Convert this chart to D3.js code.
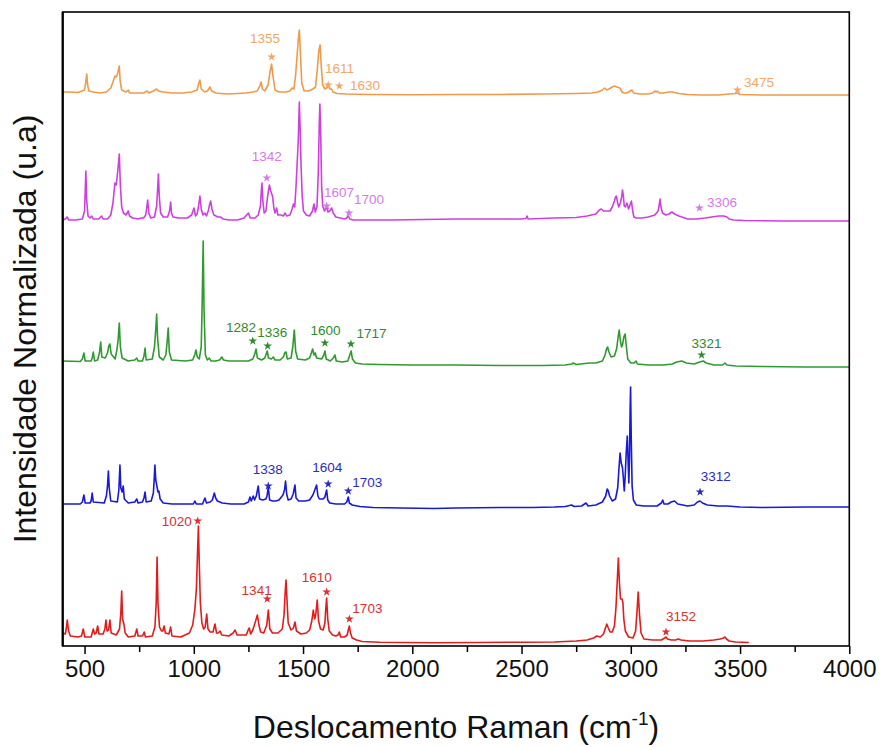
<!DOCTYPE html>
<html><head><meta charset="utf-8">
<script src="https://cdn.jsdelivr.net/npm/d3@7"></script>
<style>body{margin:0;background:#fff}svg{display:block}text{font-family:"Liberation Sans",Arial,sans-serif}</style>
</head><body><svg id="chart" width="881" height="747"></svg>
<script>
// ---------- data ----------
const xMajorTicks = [500,1000,1500,2000,2500,3000,3500,4000];
const xMinorTicks = [750,1250,1750,2250,2750,3250,3750];
const seriesNames = ["red","blue","green","magenta","orange"];
const seriesOffsets = [3,138,279,425,551];
const lineColors = ["#e21b1b","#1818d8","#2f9a2f","#cf3fe0","#ef9a4a"];
const labelColors = ["#d93030","#2b2bc0","#2e8b2e","#d37be6","#f0a868"];

const redSpectrum = [[400,10],[412,9],[416,14],[421,23],[427,12],[435,7],[470,6],[486,7],[494,14],[501,6],[530,6],[540,14],[546,9],[553,10],[560,17],[566,9],[585,9],[593,14],[598,23],[603,12],[610,13],[616,23],[622,10],[645,8],[660,14],[666,30],[670,52],[674,24],[680,19],[686,10],[700,6],[730,7],[739,14],[745,7],[765,7],[773,11],[779,6],[810,7],[822,16],[828,40],[832,86],[836,40],[843,16],[852,12],[858,12],[864,17],[870,10],[886,9],[894,16],[900,7],[940,6],[980,10],[995,18],[1005,34],[1012,55],[1017,90],[1021,117],[1025,80],[1030,40],[1037,20],[1045,14],[1052,16],[1059,29],[1065,14],[1075,11],[1088,11],[1097,19],[1104,10],[1112,10],[1120,12],[1128,8],[1160,7],[1180,10],[1189,13],[1198,8],[1240,8],[1249,13],[1254,15],[1260,9],[1270,13],[1283,22],[1291,28],[1298,18],[1306,11],[1320,10],[1334,18],[1341,33],[1348,14],[1360,10],[1385,10],[1405,14],[1413,28],[1418,50],[1422,63],[1426,45],[1432,20],[1445,13],[1456,15],[1463,21],[1470,12],[1490,9],[1515,10],[1530,13],[1540,22],[1547,33],[1553,24],[1558,28],[1565,43],[1571,22],[1580,14],[1592,13],[1600,20],[1604,34],[1608,45],[1613,24],[1620,12],[1635,8],[1650,7],[1660,8],[1666,11],[1672,6],[1690,6],[1702,8],[1707,13],[1712,17],[1717,10],[1725,5],[1745,3],[1770,1.5],[1850,0.8],[1950,0.5],[2100,0.3],[2300,0.5],[2500,0.8],[2650,1],[2750,2],[2800,3],[2830,5],[2844,7],[2860,6],[2875,9],[2884,15],[2890,19],[2897,15],[2905,11],[2915,11],[2925,17],[2932,35],[2938,62],[2943,85],[2948,60],[2953,44],[2960,44],[2964,40],[2968,24],[2975,12],[2990,6],[3010,5],[3022,12],[3028,30],[3034,51],[3040,28],[3047,10],[3060,4],[3100,3],[3140,3],[3155,5],[3161,6],[3168,4],[3185,3],[3205,3],[3217,4],[3230,3],[3270,2],[3330,2],[3380,3],[3410,4],[3424,5],[3431,6],[3438,4],[3450,2],[3480,1],[3540,0.5]];

const blueSpectrum = [[400,4],[480,4],[490,6],[497,13],[503,5],[525,5],[530,7],[535,15],[540,6],[590,5],[600,12],[605,22],[609,37],[613,20],[620,7],[650,6],[657,18],[662,43],[666,20],[672,16],[677,22],[682,9],[700,5],[730,6],[739,9],[745,5],[765,6],[772,10],[777,16],[782,6],[805,7],[815,15],[819,30],[822,43],[826,28],[831,22],[836,16],[840,17],[846,9],[860,5],[900,4],[960,4],[998,4],[1005,7],[1011,4],[1040,4],[1051,10],[1058,5],[1075,6],[1085,8],[1094,15],[1100,10],[1108,7],[1130,5],[1170,4],[1200,4],[1230,4],[1250,6],[1257,11],[1263,7],[1272,12],[1278,8],[1286,12],[1295,22],[1301,9],[1315,8],[1330,9],[1335,12],[1341,21],[1347,8],[1360,7],[1375,7],[1390,8],[1408,13],[1415,18],[1420,27],[1425,14],[1432,8],[1445,9],[1455,14],[1463,23],[1468,10],[1480,7],[1510,7],[1530,8],[1545,13],[1552,17],[1562,23],[1568,12],[1575,9],[1592,9],[1600,11],[1608,18],[1613,8],[1622,5],[1650,4],[1690,4],[1700,6],[1707,11],[1712,5],[1725,3],[1760,1.5],[1820,0.5],[1950,0],[2100,-0.5],[2200,0],[2400,0.5],[2550,0.5],[2650,1],[2700,1.5],[2729,3],[2740,1.5],[2775,2],[2795,5],[2805,2],[2840,3],[2870,6],[2885,12],[2892,19],[2897,17],[2903,12],[2915,7],[2930,9],[2940,20],[2946,40],[2951,55],[2956,45],[2962,40],[2966,30],[2970,17],[2974,30],[2979,55],[2984,72],[2988,45],[2991,25],[2994,50],[2997,100],[2999,121],[3002,70],[3006,22],[3012,8],[3025,3],[3060,2],[3120,2],[3140,5],[3146,8],[3152,4],[3170,4],[3185,6],[3200,7],[3215,4],[3260,2],[3290,3],[3305,6],[3317,7],[3328,5],[3350,3],[3400,2],[3440,2],[3500,1],[3600,0.5],[3800,1],[4000,1]];

const greenSpectrum = [[400,6],[480,5.5],[490,8],[497,14],[503,6],[530,6],[535,9],[540,15],[546,6],[560,7],[568,14],[574,25],[579,10],[595,9],[605,14],[611,21],[616,23],[622,13],[640,8],[648,17],[654,28],[659,44],[664,20],[672,9],[700,6],[730,7],[739,9],[745,6],[765,6],[772,11],[777,19],[782,7],[810,8],[820,20],[826,38],[830,53],[834,30],[842,10],[860,7],[872,12],[878,25],[883,39],[888,15],[898,7],[960,6],[995,7],[1004,12],[1010,17],[1016,10],[1025,8],[1034,20],[1038,60],[1043,126],[1047,55],[1053,12],[1062,7],[1071,9],[1078,6],[1100,6],[1118,7],[1128,10],[1136,7],[1160,6],[1200,6],[1250,6],[1270,8],[1279,13],[1285,18],[1291,9],[1310,7],[1325,9],[1336,16],[1342,9],[1355,8],[1364,10],[1372,7],[1395,7],[1410,10],[1416,14],[1422,15],[1428,8],[1445,9],[1453,20],[1460,37],[1466,16],[1475,8],[1510,7],[1530,9],[1538,14],[1544,18],[1550,12],[1556,14],[1562,9],[1585,8],[1595,12],[1600,16],[1606,8],[1625,6],[1638,9],[1646,12],[1652,6],[1680,5],[1705,6],[1714,12],[1720,16],[1726,8],[1740,4],[1770,3],[1850,2.5],[2000,2],[2200,2],[2400,1.5],[2600,1.5],[2700,2],[2730,3],[2737,4],[2750,2.5],[2790,3.5],[2810,4],[2840,4],[2870,6],[2882,12],[2889,18],[2894,20],[2900,15],[2910,10],[2925,11],[2935,18],[2942,30],[2947,37],[2953,25],[2958,20],[2962,22],[2968,30],[2974,33],[2979,22],[2986,8],[3000,4],[3015,4],[3024,6],[3030,3],[3080,2],[3150,2],[3190,3],[3210,5],[3233,6],[3255,4],[3290,3],[3315,5],[3332,6],[3345,4],[3380,2],[3420,2],[3431,4],[3440,2],[3480,1],[3600,0.5],[3800,0],[4000,0]];

const magentaSpectrum = [[400,1],[412,2],[420,4],[428,1],[460,1],[490,2],[500,10],[503,30],[506,50],[510,20],[516,5],[525,3],[533,5],[540,2],[565,2],[578,5],[585,2],[605,2],[620,6],[630,18],[639,38],[645,36],[652,50],[659,67],[664,35],[670,14],[678,8],[690,6],[700,10],[706,5],[720,3],[745,2],[760,3],[770,3],[780,6],[785,14],[789,21],[794,8],[803,3],[820,4],[830,15],[834,30],[838,47],[842,25],[848,8],[860,4],[880,4],[889,10],[894,19],[898,8],[905,4],[930,3],[970,3],[990,6],[1001,13],[1008,5],[1015,7],[1022,15],[1028,25],[1034,12],[1042,6],[1051,8],[1058,5],[1066,10],[1072,16],[1077,20],[1083,12],[1092,6],[1110,4],[1121,4],[1135,2],[1160,1],[1200,1],[1230,3],[1250,8],[1258,3],[1280,3],[1295,6],[1305,15],[1309,30],[1312,38],[1316,20],[1322,8],[1330,10],[1338,25],[1346,36],[1352,30],[1360,25],[1367,12],[1372,8],[1379,13],[1385,6],[1400,6],[1410,5],[1418,8],[1425,5],[1440,6],[1450,12],[1456,17],[1462,14],[1468,35],[1474,62],[1478,80],[1483,119],[1487,90],[1491,55],[1496,25],[1502,10],[1515,6],[1530,5],[1543,10],[1550,17],[1556,9],[1564,15],[1570,50],[1574,95],[1577,117],[1581,85],[1585,35],[1590,15],[1598,10],[1603,12],[1608,15],[1614,9],[1622,10],[1631,13],[1638,8],[1650,4],[1670,3],[1690,2],[1700,3],[1707,5],[1714,2],[1730,1],[1780,1],[1900,1],[2050,1.5],[2200,2],[2350,2],[2500,2],[2520,2.5],[2525,5],[2530,2],[2650,3],[2750,3.5],[2800,5],[2840,7],[2856,11],[2865,12],[2875,10],[2890,10],[2905,10],[2915,14],[2925,20],[2930,24],[2934,25],[2940,18],[2945,14],[2952,18],[2958,24],[2962,31],[2966,25],[2970,15],[2975,14],[2982,18],[2990,12],[2996,16],[3003,20],[3008,11],[3014,4],[3025,3],[3050,3],[3080,4],[3110,6],[3125,10],[3130,16],[3134,22],[3138,14],[3145,8],[3160,6],[3175,7],[3188,9],[3200,7],[3220,5],[3260,2],[3300,2],[3340,3],[3370,4],[3403,5],[3425,5],[3440,4],[3450,2],[3470,1],[3520,0.5],[3700,0],[4000,0]];

const orangeSpectrum = [[400,3],[430,3],[470,2.5],[500,5],[505,12],[510,21],[514,10],[520,4],[540,3],[570,2],[600,3],[620,7],[630,13],[639,19],[645,18],[652,22],[659,29],[663,14],[670,5],[690,3],[700,5],[706,2],[740,2],[770,2],[787,4],[795,2],[815,4],[830,6],[838,4],[860,3],[900,2],[950,2],[990,3],[1015,5],[1023,12],[1028,15],[1034,6],[1050,3],[1062,4],[1074,8],[1082,4],[1100,2],[1150,1],[1200,1.5],[1240,2],[1270,3],[1290,4],[1302,9],[1308,13],[1314,6],[1325,4],[1340,10],[1348,22],[1356,31],[1363,18],[1372,5],[1390,3],[1420,3],[1440,4],[1450,7],[1458,6],[1466,20],[1473,40],[1478,55],[1483,65],[1488,42],[1494,12],[1505,4],[1525,4],[1545,6],[1557,8],[1565,25],[1572,44],[1578,50],[1583,30],[1590,10],[1600,6],[1608,7],[1616,10],[1622,6],[1630,6],[1637,3],[1655,1.5],[1700,1],[1800,0.5],[2000,0.3],[2200,0.5],[2400,0.5],[2600,1],[2750,1.5],[2820,2],[2850,3],[2870,5],[2880,7],[2890,5],[2900,6],[2915,8],[2926,9],[2936,8],[2950,7],[2960,3],[2970,2],[2980,2],[2990,3],[3005,5],[3012,2],[3040,1],[3080,1],[3100,2],[3110,4],[3116,3],[3121,4],[3130,2],[3150,2],[3175,3],[3190,3],[3220,1.5],[3260,0.5],[3320,0],[3400,0],[3450,1],[3480,1.5],[3488,2],[3500,0.5],[3600,0],[3800,0],[4000,0]];

const spectra = [redSpectrum, blueSpectrum, greenSpectrum, magentaSpectrum, orangeSpectrum];

// annotations: series index, label, star wavenumber, star height above series baseline
const annSeries = [4,4,4,4, 3,3,3,3, 2,2,2,2,2, 1,1,1,1, 0,0,0,0,0];
const annLabels = ["1355","1611","1630","3475", "1342","1607","1700","3306", "1282","1336","1600","1717","3321", "1338","1604","1703","3312", "1020","1341","1610","1703","3152"];
const annStarWn = [1356,1615,1666,3488, 1334,1608,1710,3314, 1270,1338,1600,1719,3324, 1341,1615,1707,3317, 1018,1336,1608,1712,3161];
const annStarH  = [38,10,9,5, 43,15,8,13, 26,21,24,23,12, 22,24,17,16, 122,44,51,24,11];
// label placement relative to the star (layout, px)
const annDx = [-21.7,-3.3,10.7,6.6, -15,-2.7,5,7.6, -26.7,-10.4,-14.3,5.7,-10, -15.6,-16,4,0.7, -36,-25.6,-25,3,0];
const annDy = [-13.7,-12,4.3,-2.6, -17,-9.3,-9.3,-1.5, -9.3,-9,-7.6,-5.7,-6.7, -12.4,-11.7,-4.3,-10.6, 5.3,-4.3,-10,-5.7,-11];

// ---------- drawing ----------
const svg = d3.select("#chart");
const L = 62.7, R = 849.3, T = 12, B = 646;
const x = d3.scaleLinear().domain([400,4000]).range([L,R]);
const y = d3.scaleLinear().domain([0,634]).range([B,T]);

svg.append("defs").append("clipPath").attr("id","clip")
  .append("rect").attr("x",L).attr("y",T).attr("width",R-L).attr("height",B-T);

const line = d3.line().x(d=>x(d[0])).y(d=>y(d[1]));
const g = svg.append("g").attr("clip-path","url(#clip)");
spectra.forEach((s,i)=>{
  g.append("path")
    .datum(s.map(p=>[p[0], p[1]+seriesOffsets[i]]))
    .attr("d",line).attr("fill","none")
    .attr("stroke",lineColors[i]).attr("stroke-width",1.6)
    .attr("stroke-linejoin","round");
});

// annotations
const star = d3.symbol().type(d3.symbolStar).size(24);
annLabels.forEach((lab,k)=>{
  const si = annSeries[k];
  const sx = x(annStarWn[k]), sy = y(annStarH[k]+seriesOffsets[si]);
  svg.append("path").attr("d",star).attr("transform",`translate(${sx},${sy})`)
    .attr("fill",labelColors[si]);
  svg.append("text").attr("x",sx+annDx[k]).attr("y",sy+annDy[k])
    .attr("font-size",13.5).attr("fill",labelColors[si]).text(lab);
});

// x axis
const axisG = svg.append("g").attr("transform",`translate(0,${B})`);
axisG.call(d3.axisBottom(x).tickValues(xMajorTicks).tickSize(8).tickPadding(6).tickFormat(d3.format("d")))
  .call(a=>a.select(".domain").remove())
  .call(a=>a.selectAll("line").attr("stroke","#000").attr("stroke-width",1.5))
  .call(a=>a.selectAll("text").attr("font-size",24).attr("fill","#111")
        .attr("font-family","'Liberation Sans',Arial,sans-serif"));
svg.append("g").attr("transform",`translate(0,${B})`)
  .call(d3.axisBottom(x).tickValues(xMinorTicks).tickSize(6).tickFormat(""))
  .call(a=>a.select(".domain").remove())
  .call(a=>a.selectAll("line").attr("stroke","#000").attr("stroke-width",1.5));

// frame
svg.append("rect").attr("x",L).attr("y",T).attr("width",R-L).attr("height",B-T)
  .attr("fill","none").attr("stroke","#000").attr("stroke-width",1.6);
svg.append("line").attr("x1",L).attr("x2",L).attr("y1",T).attr("y2",B)
  .attr("stroke","#000").attr("stroke-width",2.2);

// titles
const xt = svg.append("text").attr("x",(L+R)/2).attr("y",738).attr("text-anchor","middle")
  .attr("font-size",32).attr("fill","#111");
xt.append("tspan").text("Deslocamento Raman (cm");
xt.append("tspan").attr("font-size",19).attr("dy",-13).text("-1");
xt.append("tspan").attr("dy",13).text(")");

svg.append("text").attr("transform",`translate(36,${(T+B)/2}) rotate(-90)`)
  .attr("text-anchor","middle").attr("font-size",32).attr("fill","#111")
  .text("Intensidade Normalizada (u.a)");
</script></body></html>
